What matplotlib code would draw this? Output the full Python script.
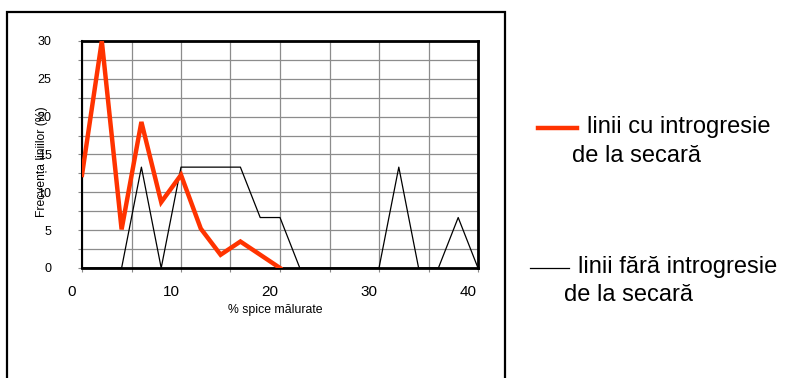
import matplotlib
matplotlib.use("Agg")
import matplotlib.pyplot as plt
from matplotlib.lines import Line2D
from matplotlib.patches import Rectangle
import numpy as np

plt.rcParams['font.family'] = ['Liberation Sans', 'DejaVu Sans']

# Data: class midpoints of % damaged spikes
x_classes = [1, 3, 5, 7, 9, 11, 13, 15, 17, 19, 21, 23, 25, 27, 29, 31, 33, 35, 37, 39, 41]
red_x = [1, 3, 5, 7, 9, 11, 13, 15, 17, 19, 21]
red_vals = [12.3, 30.0, 5.1, 19.3, 8.7, 12.3, 5.2, 1.75, 3.5, 1.75, 0.0]
black_vals = [0, 0, 0, 13.33, 0, 13.33, 13.33, 13.33, 13.33, 6.67, 6.67,
              0, 0, 0, 0, 0, 13.33, 0, 0, 6.67, 0]
x_tick_labels = [0, 10, 20, 30, 40]
x_grid = [1, 6, 11, 16, 21, 26, 31, 36, 41]
y_major = [0, 5, 10, 15, 20, 25, 30]
y_minor = [2.5, 7.5, 12.5, 17.5, 22.5, 27.5]

red_label = "linii cu introgresie\nde la secară"
black_label = "linii fără introgresie\nde la secară"

W, H = 786, 378
fig = plt.figure(figsize=(W / 100, H / 100), dpi=100)
ax = fig.add_axes([82 / W, 1 - 268 / H, 396 / W, 227 / H])

ax.set_xlim(1, 41)
ax.set_ylim(0, 30)

# grid
ax.set_xticks(x_grid)
ax.set_xticklabels([])
ax.set_yticks(y_major)
ax.set_yticks(y_minor, minor=True)
ax.grid(True, which='both', color='#8c8c8c', linewidth=0.9)
ax.set_axisbelow(True)
ax.tick_params(axis='x', length=3, width=0.8, color='#888888')
ax.tick_params(axis='y', which='both', length=3, width=0.8, color='#888888',
               labelsize=9, pad=19)

ax.plot(x_classes, black_vals, color='black', linewidth=0.9, zorder=3)
ax.plot(red_x, red_vals, color='#ff3300', linewidth=3.2, zorder=4,
        solid_joinstyle='miter')

for s in ['top', 'right', 'bottom']:
    ax.spines[s].set_linewidth(2.0)
ax.spines['left'].set_linewidth(1.5)

# x tick labels at their true positions (0 lies left of the plot area)
for v in x_tick_labels:
    ax.annotate(str(v), xy=(v, 0), xycoords=('data', 'axes fraction'),
                xytext=(0, -24), textcoords='offset pixels',
                ha='center', va='center', fontsize=11, annotation_clip=False)

ax.set_xlabel("% spice mălurate", fontsize=8.8)
ax.xaxis.set_label_coords((275 - 82) / 396, -(310 - 268) / 227)
ax.set_ylabel("Frecvența liniilor (%)", fontsize=8.7)
ax.yaxis.set_label_coords((42 - 82) / 396, (268 - 162) / 227)
ax.yaxis.label.set_va('center')
ax.xaxis.label.set_va('center')

# outer chart frame
fig.add_artist(Rectangle((7 / W, -0.05), (505 - 7) / W, 1.05 - 12 / H,
                         transform=fig.transFigure, fill=False,
                         edgecolor='black', linewidth=1.6))

# legend (outside, to the right)
fig.add_artist(Line2D([538 / W, 577 / W], [1 - 128 / H, 1 - 128 / H],
                      color='#ff3300', linewidth=3.2, transform=fig.transFigure))
red_lines = red_label.split("\n")
fig.text(587 / W, 1 - 127 / H, red_lines[0], fontsize=17, va='center', ha='left')
fig.text(572 / W, 1 - 156 / H, red_lines[1], fontsize=17, va='center', ha='left')

fig.add_artist(Line2D([530 / W, 569 / W], [1 - 268 / H, 1 - 268 / H],
                      color='black', linewidth=0.9, transform=fig.transFigure))
black_lines = black_label.split("\n")
fig.text(578 / W, 1 - 267 / H, black_lines[0], fontsize=17, va='center', ha='left')
fig.text(564 / W, 1 - 295 / H, black_lines[1], fontsize=17, va='center', ha='left')

fig.savefig("out.png", dpi=100)
